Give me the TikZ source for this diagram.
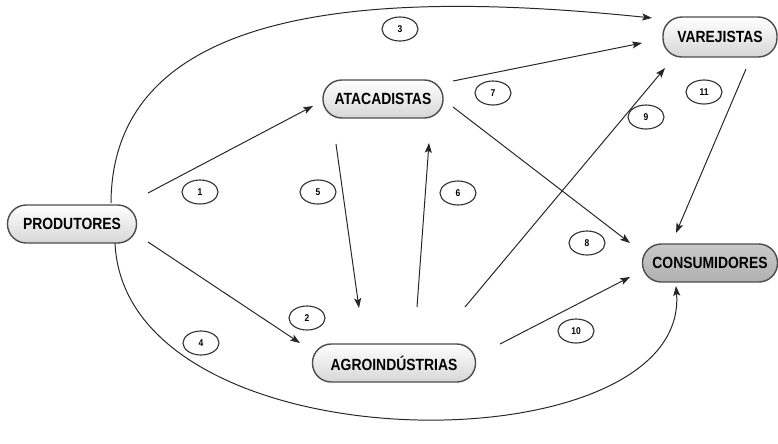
\documentclass[tikz,border=0pt]{standalone}
\usepackage{fontspec}
\setmainfont{Liberation Sans}
\newfontfamily\boxfont{Liberation Sans}[FakeStretch=0.86]
\usetikzlibrary{shapes.geometric, arrows.meta, calc}

\begin{document}
\begin{tikzpicture}[
    x=0.025cm, y=-0.025cm,
    agent/.style={rectangle, rounded corners=0.47cm, minimum height=0.95cm, text centered, draw=black!70, line width=1pt, top color=white, bottom color=gray!32, font=\boxfont\bfseries\fontsize{11.5}{13}\selectfont},
    agentdark/.style={agent, top color=gray!42, bottom color=gray!62},
    tag/.style={ellipse, draw=black!80, line width=0.8pt, minimum width=0.9cm, minimum height=0.6cm, inner sep=0pt, font=\boxfont\bfseries\fontsize{7}{8}\selectfont},
    arrow/.style={line width=0.7pt, black!85, -{Stealth[length=7pt, width=5pt, inset=1.5pt]}}
]
\useasboundingbox (0,0) rectangle (778,443);

% Nodes
\node (prod) [agent, minimum width=3.225cm] at (72,224) {PRODUTORES};
\node (atac) [agent, minimum width=3cm] at (383,99) {ATACADISTAS};
\node (varej) [agent, minimum width=2.85cm, minimum height=1cm] at (720,37) {VAREJISTAS};
\node (cons) [agentdark, minimum width=3.375cm] at (710,263) {CONSUMIDORES};
\node (agro) [agent, minimum width=4.075cm] at (394,363) {AGROINDÚSTRIAS};

% Labels
\node (t1) [tag] at (200,192) {1};
\node (t2) [tag] at (307,318) {2};
\node (t3) [tag] at (400,29) {3};
\node (t4) [tag] at (201,343) {4};
\node (t5) [tag] at (318,192) {5};
\node (t6) [tag] at (458,193) {6};
\node (t7) [tag] at (493,93) {7};
\node (t8) [tag] at (587,243) {8};
\node (t9) [tag] at (646,117) {9};
\node (t10) [tag] at (576,331) {10};
\node (t11) [tag] at (704,92) {11};

% Arrows
\draw [arrow] ($(prod)+(76,-31)$) -- ($(atac)+(-70,7)$);
\draw [arrow] ($(prod)+(76,18)$) -- ($(agro)+(-94,-20)$);
\draw [arrow] ($(prod)+(39,-21)$) .. controls (112,-5) and (400,-8) .. ($(varej)+(-68,-19)$);
\draw [arrow] ($(prod)+(43,19)$) .. controls (125,470) and (690,470) .. ($(cons)+(-34,23)$);
\draw [arrow] ($(atac)+(-47,45)$) -- ($(agro)+(-35,-55)$);
\draw [arrow] ($(agro)+(23,-56)$) -- ($(atac)+(46,44)$);
\draw [arrow] ($(atac)+(70,-18)$) -- ($(varej)+(-78,6)$);
\draw [arrow] ($(atac)+(70,8)$) -- ($(cons)+(-80,-20)$);
\draw [arrow] ($(agro)+(71,-56)$) -- ($(varej)+(-55,31)$);
\draw [arrow] ($(agro)+(106,-19)$) -- ($(cons)+(-80,14)$);
\draw [arrow] ($(varej)+(26,32)$) -- ($(cons)+(-34,-30)$);

\end{tikzpicture}
\end{document}
